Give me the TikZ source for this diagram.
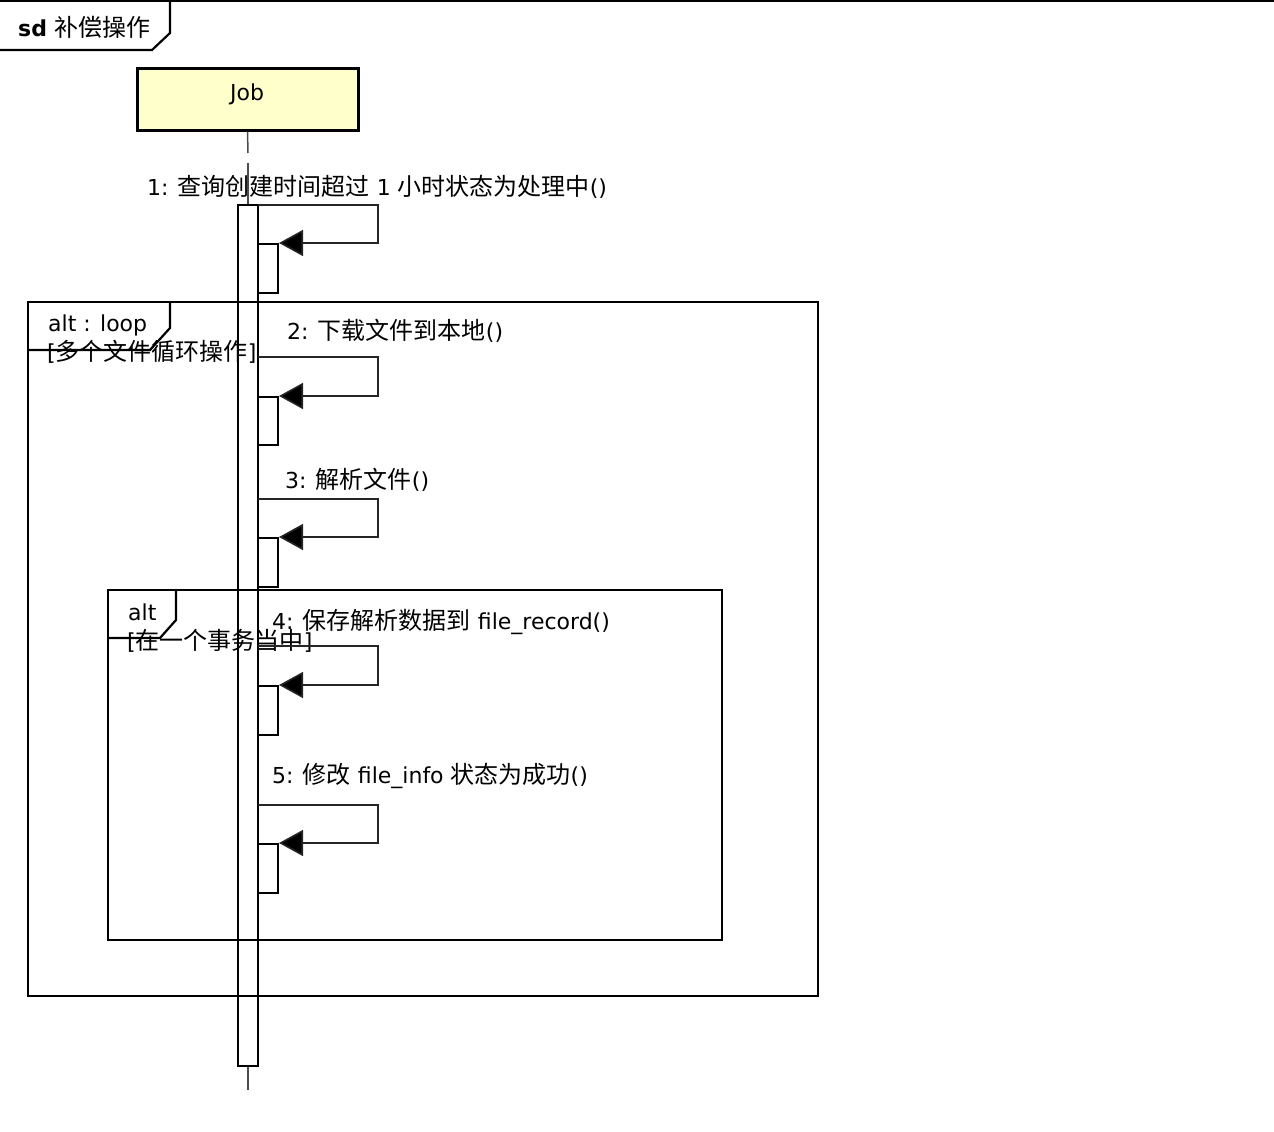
\documentclass[tikz,border=0pt]{standalone}
\usepackage{fontspec}
\setmainfont{DejaVu Sans}
\newfontfamily\cjk{Noto Sans CJK SC}
\usetikzlibrary{arrows.meta}
\newcommand{\zh}[1]{{\cjk\fontsize{24}{27}\selectfont #1}}
\begin{document}
\begin{tikzpicture}[x=1pt,y=-1pt,
  every node/.style={font=\fontsize{22}{26}\selectfont, inner sep=0pt},
  txt/.style={anchor=west},
  frameline/.style={line width=2.2pt, black},
  jobbox/.style={draw, line width=3pt, fill={rgb,255:red,255;green,255;blue,204}, minimum width=221pt, minimum height=61pt},
  actbar/.style={draw, line width=2pt, fill=white, minimum width=20pt},
  msg/.style={line width=1.6pt, black!85, -{Triangle[length=24pt,width=26pt,fill=black]}},
  lifeline/.style={line width=1.5pt, black!70}
]
\useasboundingbox (0,0) rectangle (1274,1132);
% outer sd frame
\draw[frameline] (0,1) -- (1274,1);
\draw[frameline] (170,1) -- (170,33) -- (152,50) -- (0,50);
\node[txt] (sdlabel) at (18,27) {\textbf{sd} \zh{补偿操作}};

% Job
\node[jobbox] (job) at (247.5,99.5) {};
\node (jobtxt) at (247,94) {Job};
\coordinate (ll1) at (248,153);
\coordinate (ll2) at (248,163);
\coordinate (lifeend) at (248,1090);

% activation bar
\node[actbar, minimum height=861pt] (act) at (248,635.5) {};
\draw[lifeline] (job.south) -- (ll1);
\draw[lifeline] (ll2) -- (act.north);
\draw[lifeline] (act.south) -- (lifeend);

% nested activations
\node[actbar, minimum height=49pt] (n1) at (268,268.5) {};
\node[actbar, minimum height=48pt] (n2) at (268,421) {};
\node[actbar, minimum height=49pt] (n3) at (268,562.5) {};
\node[actbar, minimum height=49pt] (n4) at (268,710.5) {};
\node[actbar, minimum height=49pt] (n5) at (268,868.5) {};

% frames
\draw[frameline] (28,302) rectangle (818,996);
\draw[frameline] (170,302) -- (170,328) -- (150,350) -- (28,350);
\node[txt] (looplbl) at (48,325) {alt : loop};
\node[txt] (loopguard) at (47,352) {[\zh{多个文件循环操作}]};

\draw[frameline] (108,590) rectangle (722,940);
\draw[frameline] (176,590) -- (176,620) -- (160,638) -- (108,638);
\node[txt] (altlbl) at (128,612) {alt};
\node[txt] (altguard) at (127,641) {[\zh{在一个事务当中}]};

% messages
\coordinate (s1) at (258,205); \coordinate (c1) at (378,205);
\draw[msg] (s1) -- (c1) |- (n1.north east);
\node[txt] (m1) at (147,187) {1: \zh{查询创建时间超过} 1 \zh{小时状态为处理中}()};

\coordinate (s2) at (258,357); \coordinate (c2) at (378,357);
\draw[msg] (s2) -- (c2) |- (n2.north east);
\node[txt] (m2) at (287,331) {2: \zh{下载文件到本地}()};

\coordinate (s3) at (258,499); \coordinate (c3) at (378,499);
\draw[msg] (s3) -- (c3) |- (n3.north east);
\node[txt] (m3) at (285,480) {3: \zh{解析文件}()};

\coordinate (s4) at (258,646); \coordinate (c4) at (378,646);
\draw[msg] (s4) -- (c4) |- (n4.north east);
\node[txt] (m4) at (272,622) {4: \zh{保存解析数据到} file\_record()};

\coordinate (s5) at (258,805); \coordinate (c5) at (378,805);
\draw[msg] (s5) -- (c5) |- (n5.north east);
\node[txt] (m5) at (272,776) {5: \zh{修改} file\_info \zh{状态为成功}()};
\end{tikzpicture}
\end{document}
